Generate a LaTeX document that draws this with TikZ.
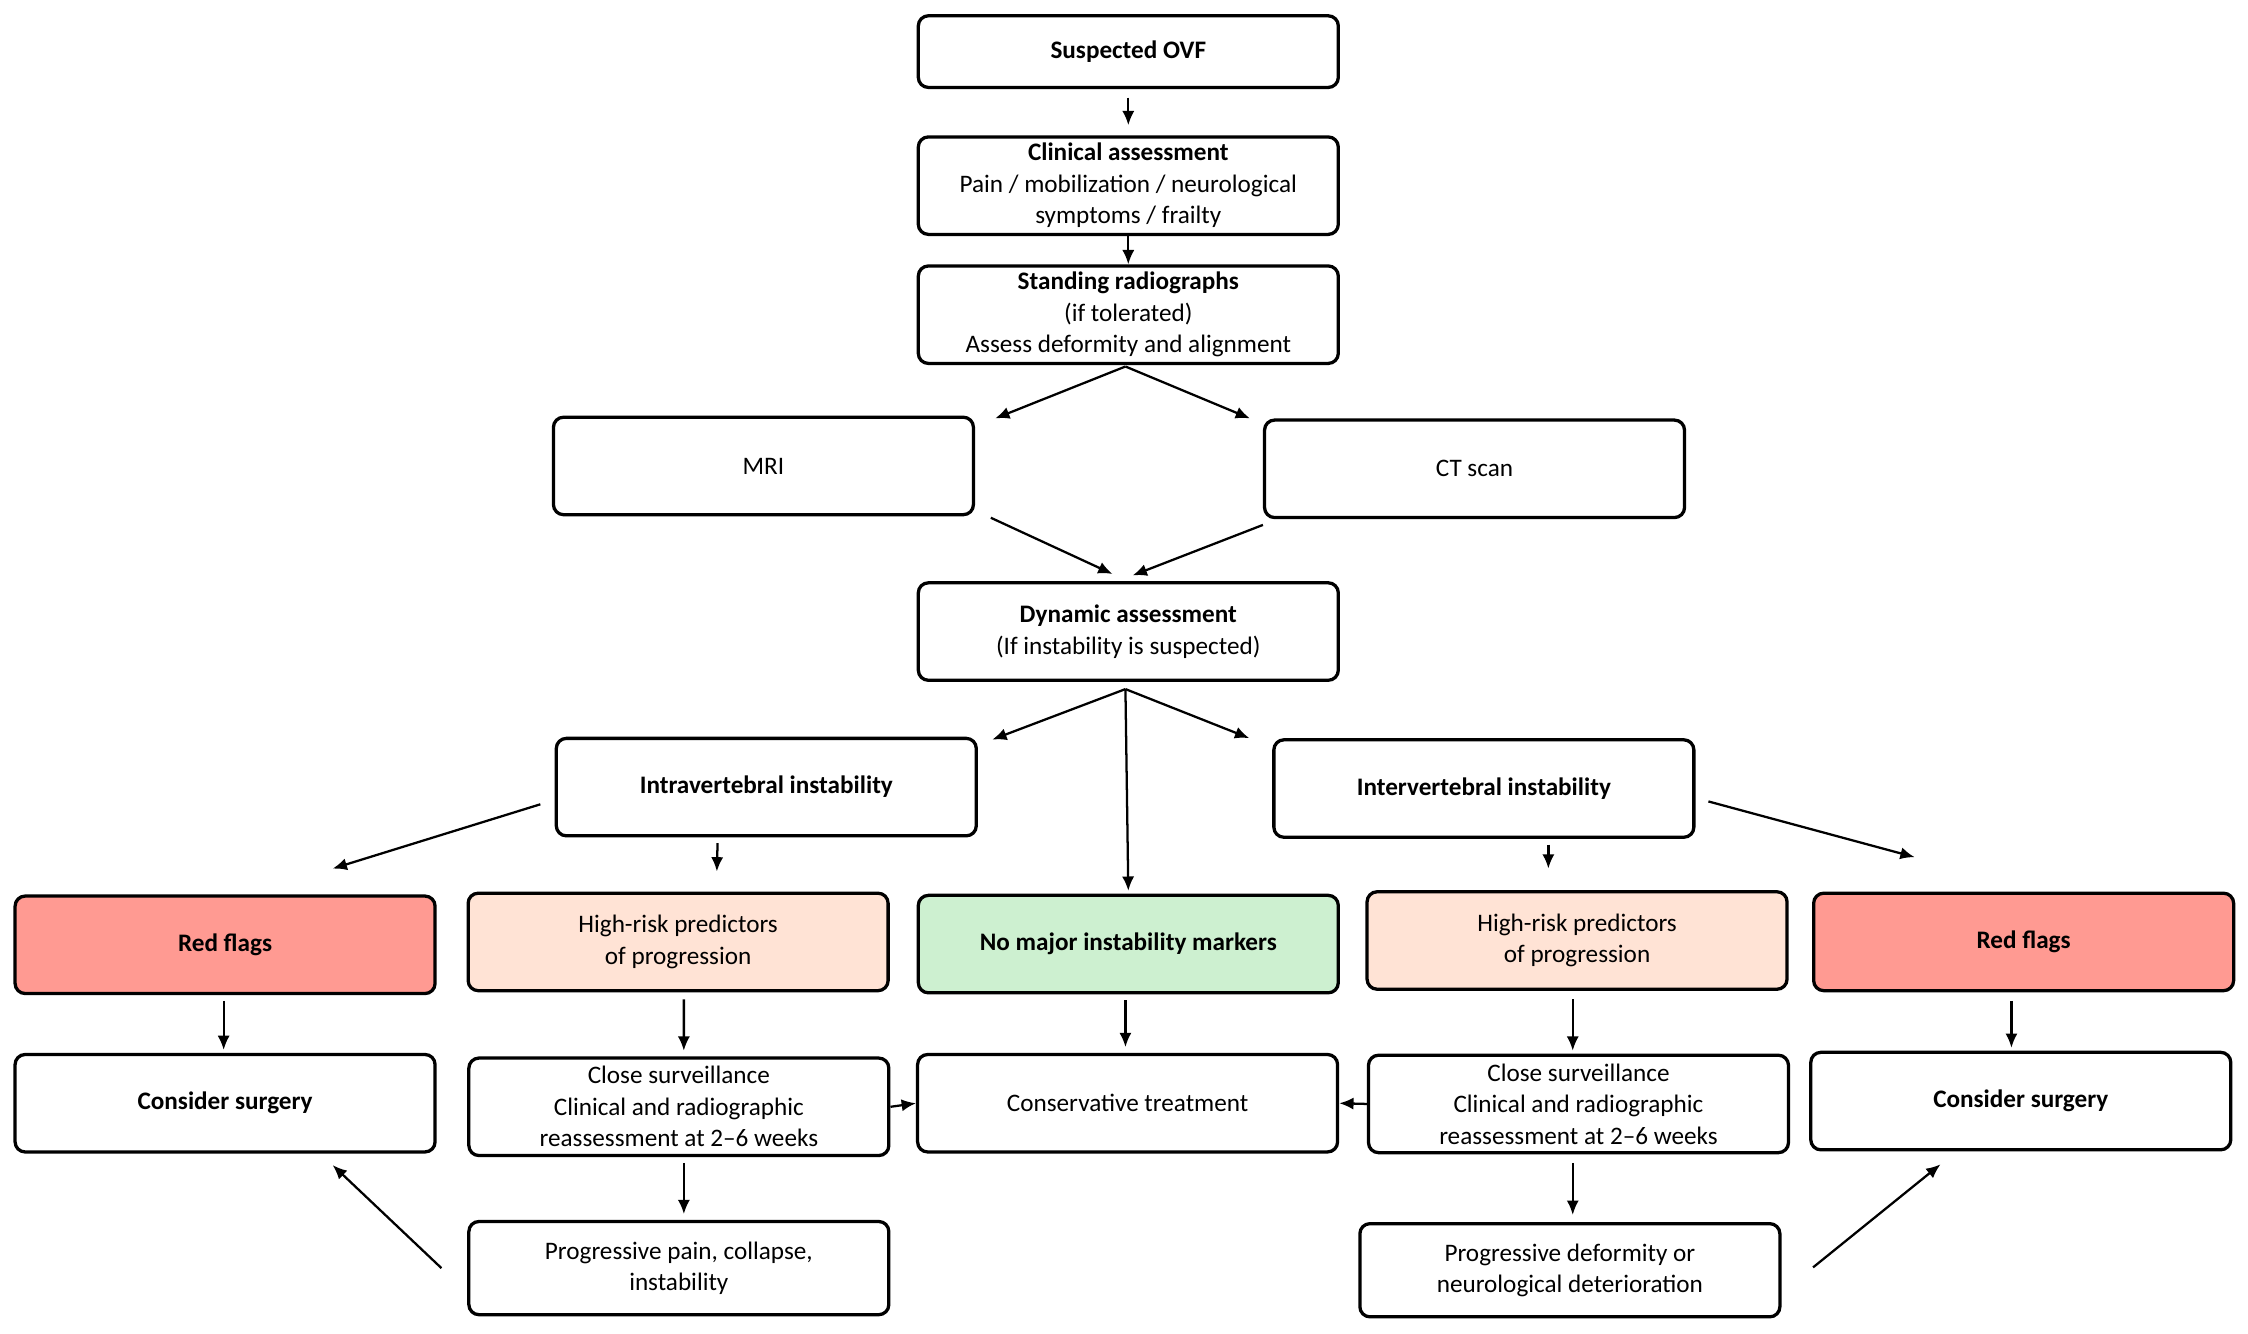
\documentclass[tikz,border=0pt]{standalone}
\usepackage{fontspec}
\setmainfont{Carlito}
\usetikzlibrary{arrows.meta,positioning,calc}

\definecolor{redflag}{HTML}{FF9A92}
\definecolor{hirisk}{HTML}{FFE3D5}
\definecolor{nomark}{HTML}{CDF0D0}

\tikzset{
  box/.style={draw, line width=1.3pt, rounded corners=4pt, align=center,
    minimum width=5.86cm, minimum height=1.36cm, inner sep=2pt,
    font=\fontsize{10}{12.5}\selectfont},
  arr/.style={-{Latex[length=2mm,width=1.7mm]}, line width=0.9pt},
}

\begin{document}
\begin{tikzpicture}[x=0.02cm, y=-0.02cm]
    \useasboundingbox (0,0) rectangle (1568,930);

    % main column
    \node [box, minimum height=1cm] (ovf) at (787,36) {\textbf{Suspected OVF}};
    \node [box] (clin)  at (787,129.5) {\textbf{Clinical assessment}\\
      Pain / mobilization / neurological\\ symptoms / frailty};
    \node [box] (stand) at (787,219.5) {\textbf{Standing radiographs}\\
      (if tolerated)\\ Assess deformity and alignment};
    \node [box] (mri)   at (532.5,325) {MRI};
    \node [box] (ct)    at (1028.5,327) {CT scan};
    \node [box] (dyn)   at (787,440.5) {\textbf{Dynamic assessment}\\
      (If instability is suspected)};
    \node [box] (intra) at (534.5,549) {\textbf{Intravertebral instability}};
    \node [box] (inter) at (1035,550) {\textbf{Intervertebral instability}};

    % findings
    \node [box, fill=redflag] (redL)    at (157,659)    {\textbf{Red flags}};
    \node [box, fill=hirisk]  (hrL)     at (473,657)    {High-risk predictors\\ of progression};
    \node [box, fill=nomark]  (nomajor) at (787,658.5)  {\textbf{No major instability markers}};
    \node [box, fill=hirisk]  (hrR)     at (1100,656)   {High-risk predictors\\ of progression};
    \node [box, fill=redflag] (redR)    at (1411.5,657) {\textbf{Red flags}};

    % management
    \node [box] (surgL)  at (157,769.5)  {\textbf{Consider surgery}};
    \node [box] (closeL) at (473.5,772)  {Close surveillance\\
      Clinical and radiographic\\ reassessment at 2--6 weeks};
    \node [box] (cons)   at (786.5,769.5) {Conservative treatment};
    \node [box] (closeR) at (1101,770)   {Close surveillance\\
      Clinical and radiographic\\ reassessment at 2--6 weeks};
    \node [box] (surgR)  at (1409.5,768) {\textbf{Consider surgery}};

    \node [box, minimum height=1.3cm] (progL) at (473.5,884.5)
      {Progressive pain, collapse,\\ instability};
    \node [box, minimum height=1.3cm] (progR) at (1095,886)
      {Progressive deformity or\\ neurological deterioration};

    % connectors
    \draw [arr, shorten <=1.2mm, shorten >=1.4mm] (ovf.south) -- (clin.north);
    \draw [arr] (clin.south) -- (stand.north);
    \draw [arr] ($(stand.south)+(-2,1)$) -- ($(mri.north east)+(14,2)$);
    \draw [arr] ($(stand.south)+(-2,1)$) -- ($(ct.north west)+(-9,0)$);
    \draw [arr] ($(mri.south east)+(11,1)$) -- ($(dyn.north)+(-11,-5)$);
    \draw [arr] ($(ct.south west)+(0,4)$)  -- ($(dyn.north)+(3,-4)$);

    \draw [arr] ($(dyn.south)+(-2,5)$) -- ($(intra.north east)+(10,2)$);
    \draw [arr] ($(dyn.south)+(-2,5)$) -- ($(nomajor.north)+(0,-2)$);
    \draw [arr] ($(dyn.south)+(-2,5)$) -- ($(inter.north west)+(-16,0)$);

    \draw [arr] ($(intra.west)+(-10,12)$) -- ($(redL.north)+(75,-18)$);
    \draw [arr] ($(intra.south)+(-34,4)$) -- ($(hrL.north)+(27,-14)$);
    \draw [arr] ($(inter.east)+(9,9)$)    -- ($(redR.north)+(-76,-24)$);
    \draw [arr] ($(inter.south)+(45,4)$)  -- ($(hrR.north)+(-20,-15)$);

    \draw [arr] ($(redL.south)+(-1,4)$)    -- ($(surgL.north)+(-1,-2)$);
    \draw [arr] ($(hrL.south)+(4,5)$)      -- ($(closeL.north)+(3.5,-4)$);
    \draw [arr] ($(nomajor.south)+(-2,4)$) -- ($(cons.north)+(-1.5,-4)$);
    \draw [arr] ($(hrR.south)+(-3,6)$)     -- ($(closeR.north)+(-4,-2)$);
    \draw [arr] ($(redR.south)+(-8.5,6)$)  -- ($(surgR.north)+(-6.5,-2)$);

    \draw [arr] (closeL.east) -- (cons.west);
    \draw [arr] (closeR.west) -- (cons.east);

    \draw [arr] ($(closeL.south)+(3.5,4)$) -- ($(progL.north)+(3.5,-4)$);
    \draw [arr] ($(closeR.south)+(-4,6)$)  -- ($(progR.north)+(2,-5)$);
    \draw [arr] ($(progL.west)+(-18,0)$)   -- ($(surgL.south)+(75,8)$);
    \draw [arr] ($(progR.east)+(22,-2)$)   -- ($(surgR.south)+(-56,9)$);
\end{tikzpicture}
\end{document}
